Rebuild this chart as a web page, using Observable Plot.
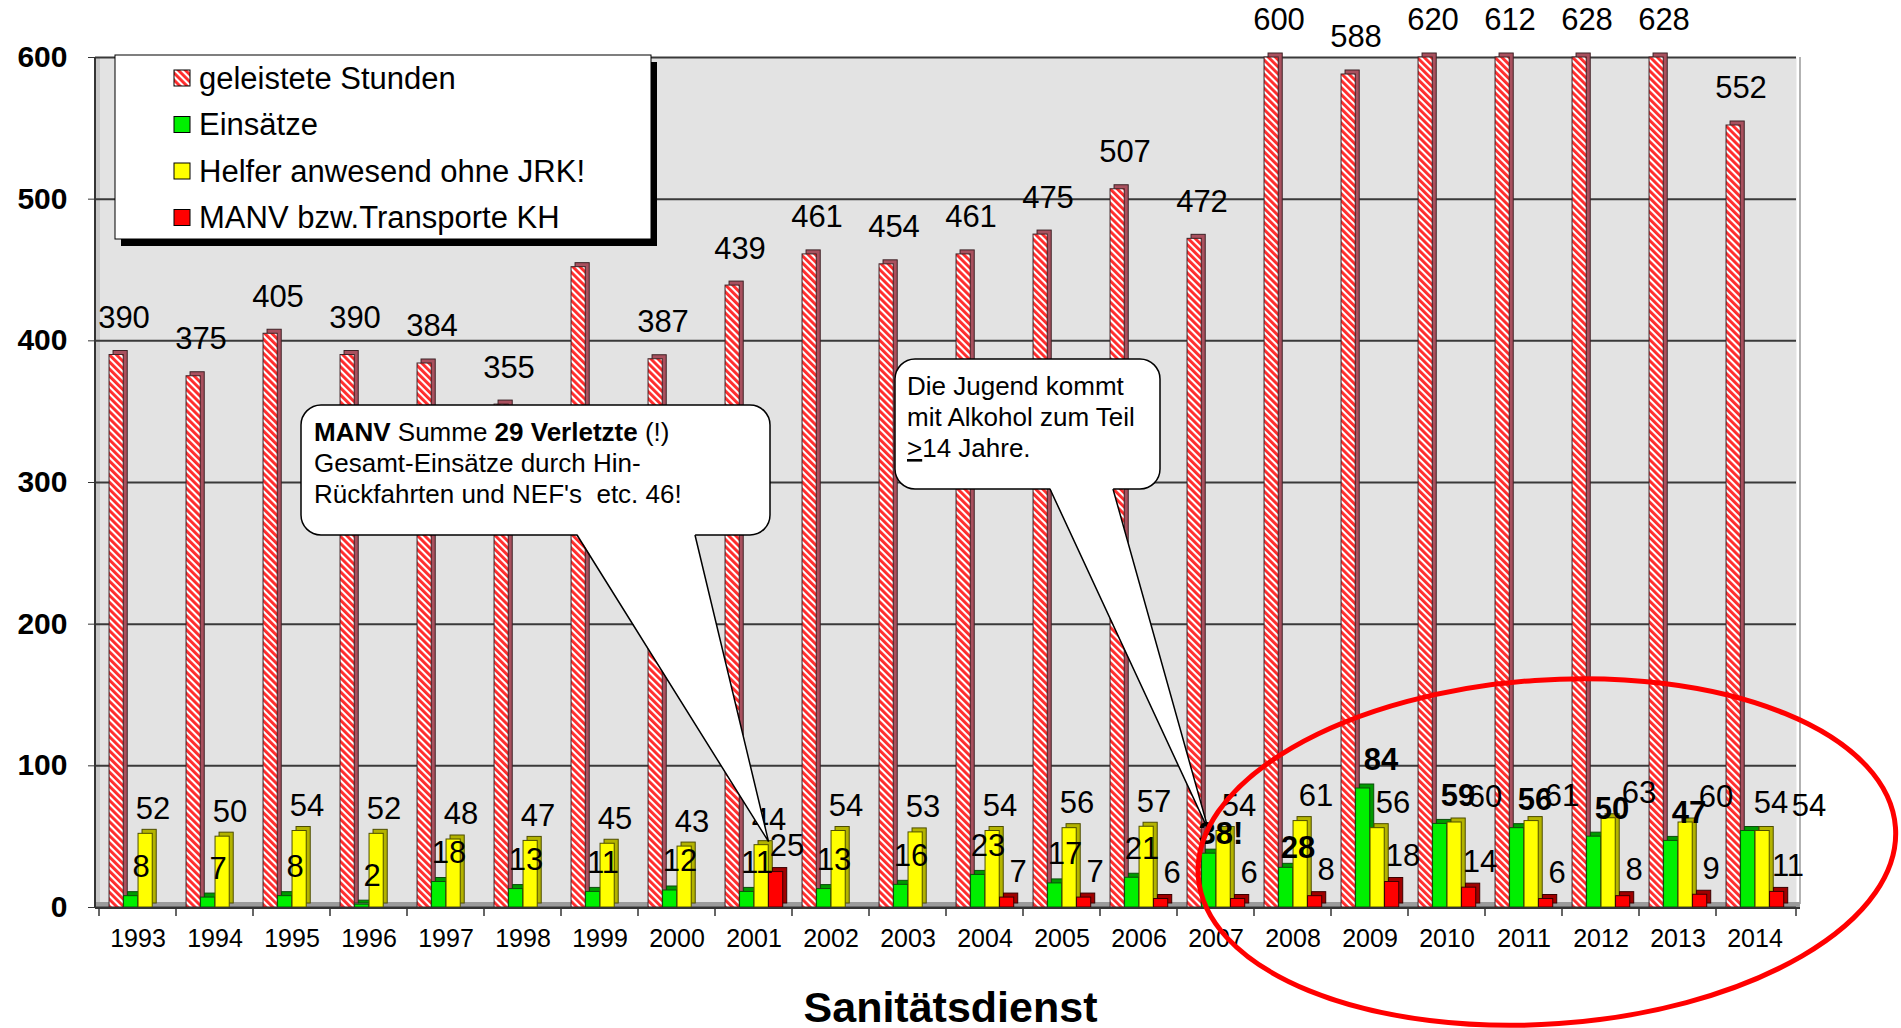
<!DOCTYPE html>
<html>
<head>
<meta charset="utf-8">
<script src="https://cdn.jsdelivr.net/npm/d3@7"></script>
<script src="https://cdn.jsdelivr.net/npm/@observablehq/plot@0.6"></script>
<style>
  html, body { margin: 0; padding: 0; background: #fff; }
  body { font-family: "Liberation Sans", Arial, sans-serif; width: 1901px; height: 1028px; overflow: hidden; }
  #chart svg { overflow: visible; display: block; }
  #title { height: 42px; padding-top: 11px; text-align: center; font-weight: bold; font-size: 43px; line-height: 43px; color: #000; }
</style>
</head>
<body>
<svg width="0" height="0" style="position:absolute">
  <defs>
    <pattern id="hatch" patternUnits="userSpaceOnUse" width="5" height="5" patternTransform="rotate(-45)">
      <rect width="5" height="5" fill="#ffffff"></rect>
      <rect width="2.9" height="5" fill="#ff2b2b"></rect>
    </pattern>
  </defs>
</svg>
<div id="chart"></div>
<div id="title">Sanitätsdienst</div>
<script>
// ---------------- data ----------------
const years = [1993, 1994, 1995, 1996, 1997, 1998, 1999, 2000, 2001, 2002, 2003,
               2004, 2005, 2006, 2007, 2008, 2009, 2010, 2011, 2012, 2013, 2014];
const stunden = [390, 375, 405, 390, 384, 355, 452, 387, 439, 461, 454,
                 461, 475, 507, 472, 600, 588, 620, 612, 628, 628, 552];
const stundenLabels = ["390", "375", "405", "390", "384", "355", "", "387", "439", "461", "454",
                       "461", "475", "507", "472", "600", "588", "620", "612", "628", "628", "552"];
const einsaetze = [8, 7, 8, 2, 18, 13, 11, 12, 11, 13, 16,
                   23, 17, 21, 38, 28, 84, 59, 56, 50, 47, 54];
const einsaetzeLabels = ["8", "7", "8", "2", "18", "13", "11", "12", "11", "13", "16",
                         "23", "17", "21", "38!", "28", "84", "59", "56", "50", "47", "54"];
const helfer = [52, 50, 54, 52, 48, 47, 45, 43, 44, 54, 53,
                54, 56, 57, 54, 61, 56, 60, 61, 63, 60, 54];
const manv = [null, null, null, null, null, null, null, null, 25, null, null,
              7, 7, 6, 6, 8, 18, 14, 6, 8, 9, 11];
const seriesNames = ["geleistete Stunden", "Einsätze", "Helfer anwesend ohne JRK!", "MANV bzw.Transporte KH"];
const yTicks = [0, 100, 200, 300, 400, 500, 600];
const boldEinsaetzeYears = [2007, 2008, 2009, 2010, 2011, 2012, 2013];
const callout1 = [
  [{t: "MANV", b: true}, {t: " Summe "}, {t: "29 Verletzte", b: true}, {t: " (!)"}],
  [{t: "Gesamt-Einsätze durch Hin-"}],
  [{t: "Rückfahrten und NEF's  etc. 46!"}]
];
const callout2 = [
  [{t: "Die Jugend kommt"}],
  [{t: "mit Alkohol zum Teil"}],
  [{t: ">", u: true}, {t: "14 Jahre."}]
];

// ---------------- layout / style ----------------
const W = 1901, H = 975;
const M = {top: 57, right: 105, bottom: 68, left: 95};
const BW = (W - M.left - M.right) / years.length;
const SLOT0 = 0.13, SLOTW = 0.1875;
const DEPTH = 4;
const styles = [
  {key: "stunden", fill: "url(#hatch)", side: "#a9505e", stroke: "#3d2226"},
  {key: "einsaetze", fill: "#00f000", side: "#009a00", stroke: "#0b4d0b"},
  {key: "helfer", fill: "#ffff00", side: "#b3b300", stroke: "#4d4d00"},
  {key: "manv", fill: "#ff0000", side: "#a00000", stroke: "#3a0000"}
];
const FONT = "Liberation Sans, Arial, sans-serif";

const rows = years.map((year, i) => ({
  year,
  stunden: stunden[i], stundenLabel: stundenLabels[i],
  einsaetze: einsaetze[i], einsaetzeLabel: einsaetzeLabels[i],
  helfer: helfer[i],
  manv: manv[i]
}));

function insets(i) {
  return {
    insetLeft: BW * (SLOT0 + i * SLOTW),
    insetRight: BW * (1 - SLOT0 - (i + 1) * SLOTW)
  };
}

function barMarks(i) {
  const s = styles[i];
  const base = {filter: d => d[s.key] != null, x: "year", y: s.key, ...insets(i)};
  return [
    Plot.barY(rows, {...base, fill: s.side, stroke: s.stroke, strokeWidth: 1, dx: DEPTH, dy: -DEPTH}),
    Plot.barY(rows, {...base, fill: s.fill, stroke: s.stroke, strokeWidth: 1})
  ];
}

function lbl(filter, y, text, dx, dy, bold) {
  return Plot.text(rows, {
    filter, x: "year", y, text, dx, dy,
    fontSize: 31, fontWeight: bold ? "bold" : "normal", fill: "#000"
  });
}

// background details (floor, wall, edges)
function backdrop(index, scales, values, dims) {
  const g = d3.create("svg:g");
  const x0 = dims.marginLeft, x1 = dims.width - dims.marginRight;
  const y0 = scales.y(0), yTop = scales.y(600);
  g.append("rect").attr("x", x0).attr("y", yTop).attr("width", 5).attr("height", y0 - yTop).attr("fill", "#c9c9c9");
  g.append("rect").attr("x", x0).attr("y", y0 - 5).attr("width", x1 - x0 + DEPTH).attr("height", 5).attr("fill", "#9b9b9b");
  g.append("line").attr("x1", x1 + DEPTH).attr("x2", x1 + DEPTH).attr("y1", yTop).attr("y2", y0 - 3)
    .attr("stroke", "#9a9a9a").attr("stroke-width", 1.5);
  return g.node();
}

function axisLines(index, scales, values, dims) {
  const g = d3.create("svg:g").attr("stroke", "#333");
  const x0 = dims.marginLeft, x1 = dims.width - dims.marginRight;
  const y0 = scales.y(0), yTop = scales.y(600);
  g.append("line").attr("x1", x0).attr("x2", x0).attr("y1", yTop).attr("y2", y0 + 1).attr("stroke-width", 2);
  g.append("line").attr("x1", x0).attr("x2", x1 + DEPTH).attr("y1", y0 + 1).attr("y2", y0 + 1).attr("stroke-width", 2);
  for (const yr of years) {
    const xx = scales.x(yr);
    g.append("line").attr("x1", xx).attr("x2", xx).attr("y1", y0 + 1).attr("y2", y0 + 9).attr("stroke-width", 1.5);
  }
  g.append("line").attr("x1", x1).attr("x2", x1).attr("y1", y0 + 1).attr("y2", y0 + 9).attr("stroke-width", 1.5);
  return g.node();
}

function drawCallout(g, box, base, tip, lines, textX, baselines) {
  const [bx, by, bw, bh] = box;
  g.append("rect").attr("x", bx).attr("y", by).attr("width", bw).attr("height", bh)
    .attr("rx", 20).attr("ry", 20).attr("fill", "#fff").attr("stroke", "#000").attr("stroke-width", 1.5);
  const bottom = by + bh;
  g.append("polygon")
    .attr("points", `${base[0]},${bottom - 1.2} ${tip[0]},${tip[1]} ${base[1]},${bottom - 1.2}`)
    .attr("fill", "#fff").attr("stroke", "none");
  g.append("polyline")
    .attr("points", `${base[0]},${bottom} ${tip[0]},${tip[1]} ${base[1]},${bottom}`)
    .attr("fill", "none").attr("stroke", "#000").attr("stroke-width", 1.5);
  lines.forEach((parts, i) => {
    const t = g.append("text").attr("x", textX).attr("y", baselines[i])
      .attr("text-anchor", "start")
      .attr("font-family", FONT).attr("font-size", 26).attr("fill", "#000");
    for (const p of parts) {
      const ts = t.append("tspan").text(p.t);
      if (p.b) ts.attr("font-weight", "bold");
      if (p.u) ts.style("text-decoration", "underline");
    }
  });
}

function annotations(index, scales, values, dims) {
  const g = d3.create("svg:g").attr("text-anchor", "start");
  // callout 1: points at 2001 (Helfer / MANV)
  const tip1 = [scales.x(2001) + BW * (SLOT0 + 3 * SLOTW), scales.y(44) - 3];
  drawCallout(g, [301, 405, 469, 130], [577, 695], tip1, callout1, 314, [441, 472, 503]);
  // callout 2: points at 2007 Einsätze
  const tip2 = [scales.x(2007) + BW * (SLOT0 + 1.5 * SLOTW), scales.y(38) - 22];
  drawCallout(g, [895, 359, 265, 130], [1050, 1113], tip2, callout2, 907, [395, 426, 457]);
  // red ellipse around recent years
  const cx = scales.x(2011) + BW * 0.8, cy = scales.y(0) - 55;
  g.append("ellipse").attr("cx", cx).attr("cy", cy).attr("rx", BW * 4.52).attr("ry", 172)
    .attr("transform", `rotate(-4 ${cx} ${cy})`)
    .attr("fill", "none").attr("stroke", "#ff0000").attr("stroke-width", 5);
  return g.node();
}

function legend() {
  const g = d3.create("svg:g").attr("text-anchor", "start");
  const lx = 115, ly = 55, lw = 536, lh = 184;
  g.append("rect").attr("x", lx + 6).attr("y", ly + 7).attr("width", lw).attr("height", lh).attr("fill", "#000");
  g.append("rect").attr("x", lx).attr("y", ly).attr("width", lw).attr("height", lh)
    .attr("fill", "#fff").attr("stroke", "#000").attr("stroke-width", 1);
  seriesNames.forEach((name, i) => {
    const cy = 78 + i * 46.5;
    g.append("rect").attr("x", 174).attr("y", cy - 8).attr("width", 16).attr("height", 16)
      .attr("fill", styles[i].fill).attr("stroke", "#000").attr("stroke-width", 1);
    g.append("text").attr("x", 199).attr("y", cy).attr("dy", "0.35em")
      .attr("text-anchor", "start")
      .attr("font-family", FONT).attr("font-size", 31).attr("fill", "#000").text(name);
  });
  return g.node();
}

const chart = Plot.plot({
  width: W, height: H,
  marginTop: M.top, marginRight: M.right, marginBottom: M.bottom, marginLeft: M.left,
  style: {fontFamily: FONT, color: "#000", background: "transparent", overflow: "visible"},
  x: {type: "band", domain: years, padding: 0, label: null},
  y: {domain: [0, 600], clamp: true, label: null},
  marks: [
    Plot.frame({fill: "#e3e3e3", stroke: null}),
    backdrop,
    Plot.gridY(yTicks, {stroke: "#3a3a3a", strokeOpacity: 1, strokeWidth: 2}),
    ...barMarks(0), ...barMarks(1), ...barMarks(2), ...barMarks(3),
    axisLines,
    Plot.axisY(yTicks, {tickSize: 7, tickPadding: 21, fontSize: 30, fontWeight: "bold", label: null, stroke: "#333", fill: "#000"}),
    Plot.axisX({tickSize: 0, tickPadding: 22, fontSize: 25, label: null, fill: "#000", tickFormat: d => String(d)}),
    // labels: geleistete Stunden
    lbl(d => d.stundenLabel, "stunden", "stundenLabel", -14, -37, false),
    // labels: Einsätze
    lbl(d => d.year < 2007, "einsaetze", "einsaetzeLabel", 3, -29, false),
    lbl(d => boldEinsaetzeYears.includes(d.year) && d.year < 2009, "einsaetze", "einsaetzeLabel", 5, -20, true),
    lbl(d => boldEinsaetzeYears.includes(d.year) && d.year >= 2009, "einsaetze", "einsaetzeLabel", 11, -28, true),
    lbl(d => d.year > 2013, "einsaetze", "einsaetzeLabel", 16, -28, false),
    // labels: Helfer
    lbl(d => d.year < 2007, "helfer", "helfer", 15, -25, false),
    lbl(d => d.year >= 2007 && d.year < 2010, "helfer", "helfer", 23, -25, false),
    lbl(d => d.year >= 2010 && d.year < 2014, "helfer", "helfer", 38, -25, false),
    lbl(d => d.year >= 2014, "helfer", "helfer", 54, -25, false),
    // labels: MANV
    lbl(d => d.manv != null, "manv", "manv", 33, -26, false),
    annotations,
    legend
  ]
});
document.getElementById("chart").appendChild(chart);
</script>
</body>
</html>
